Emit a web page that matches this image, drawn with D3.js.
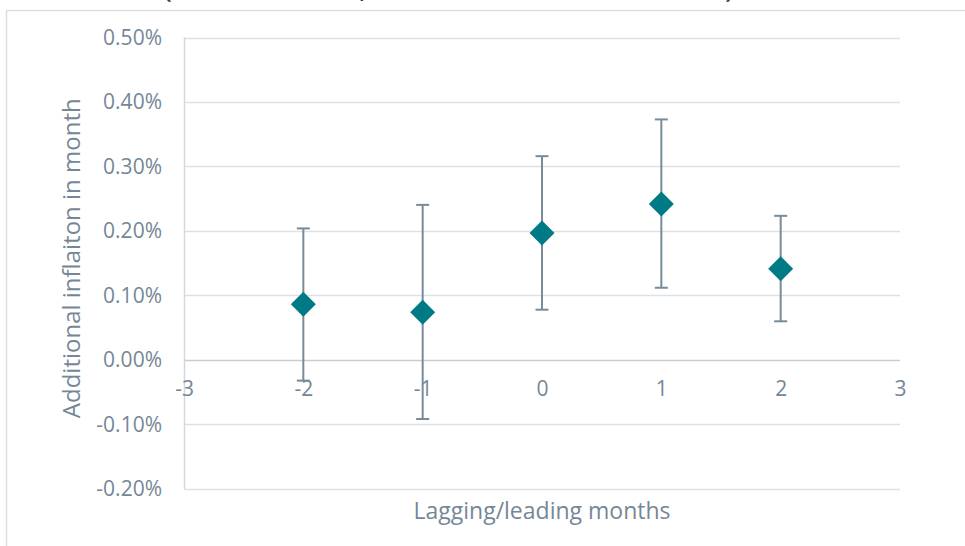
<!DOCTYPE html>
<html>
<head>
<meta charset="utf-8">
<script src="https://cdn.jsdelivr.net/npm/d3@7"></script>
<style>
  body { margin: 0; background: #fff; }
  svg text { font-family: "Open Sans", sans-serif; fill: #758797; }
</style>
</head>
<body>
<div id="viz"></div>
<script>
// lag/lead months, point estimate and error bar bounds (as %)
var months = [-2, -1, 0, 1, 2];
var estimate = [0.0865, 0.0740, 0.1970, 0.2420, 0.1415];
var upper = [0.2040, 0.2405, 0.3160, 0.3730, 0.2235];
var lower = [-0.0320, -0.0915, 0.0780, 0.1120, 0.0600];

var yTicks = [-0.2, -0.1, 0, 0.1, 0.2, 0.3, 0.4, 0.5];
var xTicks = [-3, -2, -1, 0, 1, 2, 3];

// bits of the cut off title at the top edge
var titleBits = [{t: '(', x: 168}, {t: ',', x: 363}, {t: ')', x: 729}];

var chart = {width: 965, height: 546};
var plot = {left: 184, right: 900, top: 37.5, bottom: 489};

var svg = d3.select('#viz')
  .append('svg')
  .attr('width', chart.width)
  .attr('height', chart.height);

// chart frame
svg.append('rect')
  .attr('x', 6.5).attr('y', 10.5)
  .attr('width', 1000).attr('height', 600)
  .attr('fill', 'none')
  .attr('stroke', '#d9dee3')
  .attr('stroke-width', 1.5);

svg.append('g')
  .selectAll('text')
  .data(titleBits)
  .enter()
  .append('text')
  .attr('x', (d) => d.x)
  .attr('y', -2)
  .attr('text-anchor', 'middle')
  .style('fill', '#3a3f44')
  .style('font-size', '22px')
  .style('font-weight', 'bold')
  .text((d) => d.t);

var xScale = d3.scaleLinear().domain([-3, 3]).range([plot.left, plot.right]);
var yScale = d3.scaleLinear().domain([-0.2, 0.5]).range([plot.bottom, plot.top]);

// gridlines
svg.append('g')
  .selectAll('line')
  .data(yTicks)
  .enter()
  .append('line')
  .attr('x1', plot.left)
  .attr('x2', plot.right)
  .attr('y1', (d) => Math.round(yScale(d)) + 0.5)
  .attr('y2', (d) => Math.round(yScale(d)) + 0.5)
  .attr('stroke', (d) => d === 0 ? '#c8cdd2' : '#dde1e5')
  .attr('stroke-width', 1.5);

// left axis line
svg.append('line')
  .attr('x1', plot.left + 0.5).attr('x2', plot.left + 0.5)
  .attr('y1', plot.top).attr('y2', plot.bottom)
  .attr('stroke', '#d3d8dc')
  .attr('stroke-width', 1.5);

var hyphen = (s) => s.replace('\u2212', '-');

// y axis labels
var yAxis = d3.axisLeft(yScale)
  .tickValues(yTicks)
  .tickSize(0)
  .tickPadding(22)
  .tickFormat((d) => hyphen(d3.format('.2f')(d)) + '%');

svg.append('g')
  .attr('transform', 'translate(' + plot.left + ',0)')
  .call(yAxis)
  .call((g) => g.select('.domain').remove())
  .selectAll('text')
  .style('font-size', '21px')
  .style('font-family', '"Open Sans", sans-serif')
  .attr('fill', '#758797');

// x axis labels sit on the zero line
var xAxis = d3.axisBottom(xScale)
  .tickValues(xTicks)
  .tickSize(0)
  .tickPadding(21)
  .tickFormat((d) => hyphen(d3.format('d')(d)));

svg.append('g')
  .attr('transform', 'translate(0,' + yScale(0) + ')')
  .call(xAxis)
  .call((g) => g.select('.domain').remove())
  .selectAll('text')
  .style('font-size', '21px')
  .style('font-family', '"Open Sans", sans-serif')
  .attr('fill', '#758797');

var pts = months.map((m, i) => ({m: m, v: estimate[i], hi: upper[i], lo: lower[i]}));

// error bars
var bars = svg.append('g')
  .selectAll('g')
  .data(pts)
  .enter()
  .append('g')
  .attr('stroke', '#788b99')
  .attr('stroke-width', 2);

bars.append('line')
  .attr('x1', (d) => xScale(d.m)).attr('x2', (d) => xScale(d.m))
  .attr('y1', (d) => yScale(d.hi)).attr('y2', (d) => yScale(d.lo));
bars.append('line')
  .attr('x1', (d) => xScale(d.m) - 6.5).attr('x2', (d) => xScale(d.m) + 6.5)
  .attr('y1', (d) => yScale(d.hi)).attr('y2', (d) => yScale(d.hi));
bars.append('line')
  .attr('x1', (d) => xScale(d.m) - 6.5).attr('x2', (d) => xScale(d.m) + 6.5)
  .attr('y1', (d) => yScale(d.lo)).attr('y2', (d) => yScale(d.lo));

// diamonds
svg.append('g')
  .selectAll('path')
  .data(pts)
  .enter()
  .append('path')
  .attr('d', d3.symbol().type(d3.symbolSquare).size(312))
  .attr('transform', (d) => 'translate(' + xScale(d.m) + ',' + yScale(d.v) + ') rotate(45)')
  .attr('fill', '#007a85');

// axis titles
svg.append('text')
  .attr('transform', 'translate(80,' + ((plot.top + plot.bottom) / 2 - 5) + ') rotate(-90)')
  .attr('text-anchor', 'middle')
  .style('font-size', '24px')
  .text('Additional inflaiton in month');

svg.append('text')
  .attr('x', (plot.left + plot.right) / 2)
  .attr('y', 519)
  .attr('text-anchor', 'middle')
  .style('font-size', '23px')
  .text('Lagging/leading months');
</script>
</body>
</html>
